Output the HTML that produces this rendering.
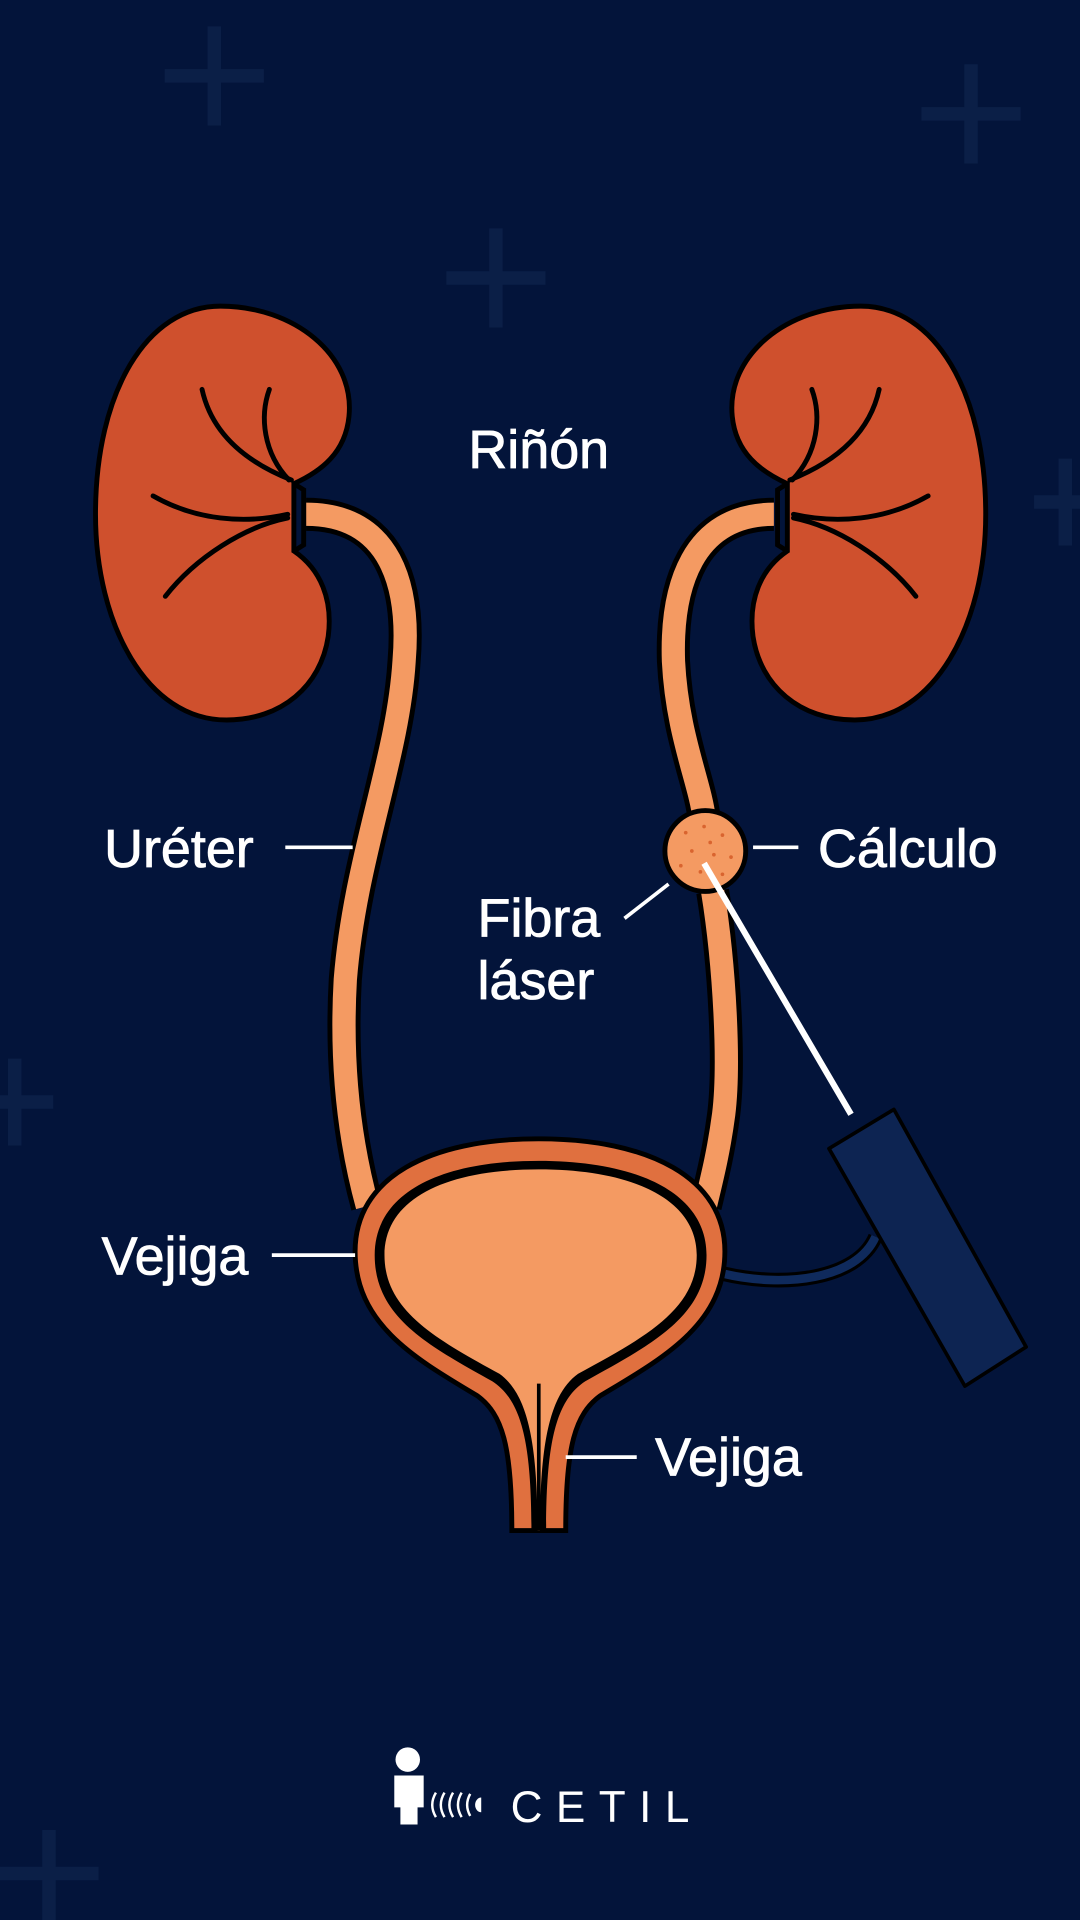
<!DOCTYPE html>
<html><head><meta charset="utf-8"><style>
html,body{margin:0;padding:0;background:#03143a;}
svg{display:block}
text{font-family:"Liberation Sans",sans-serif;fill:#fff;stroke:#fff;stroke-width:0.7;}
</style></head><body>
<svg width="1080" height="1920" viewBox="0 0 882 1568" xmlns="http://www.w3.org/2000/svg">
<rect width="882" height="1568" fill="#03143a"/>
<g stroke="#0b1f47" stroke-width="11" stroke-linecap="square">
<path d="M175 27V97M140 62H210"/>
<path d="M793 58V128M758 93H828"/>
<path d="M405 192V262M370 227H440"/>
<path d="M870 380V440M850 410H890"/>
<path d="M12 870V930M-10 900H38"/>
<path d="M40 1500V1568M5 1530H75"/>
</g>
<!-- ureters -->
<g fill="none" stroke-linecap="butt">
<path d="M250 420 C320 420 335 480 330 540 C325 620 290 700 282 800 C278 870 285 930 300 985" stroke="#000" stroke-width="27"/>
<path d="M250 420 C320 420 335 480 330 540 C325 620 290 700 282 800 C278 870 285 930 300 985" stroke="#f49a62" stroke-width="19"/>
<path d="M632 420 C565 420 548 480 550 540 C553 600 572 640 575 668" stroke="#000" stroke-width="27"/>
<path d="M632 420 C565 420 548 480 550 540 C553 600 572 640 575 668" stroke="#f49a62" stroke-width="19"/>
<path d="M582 728 C592 790 596 870 591 910 C587 940 582 960 576 985" stroke="#000" stroke-width="27"/>
<path d="M582 728 C592 790 596 870 591 910 C587 940 582 960 576 985" stroke="#f49a62" stroke-width="19"/>
</g>
<!-- kidneys -->
<g id="k">
<path d="M180 250 C240 250 290 290 285 340 C282 370 262 385 240 395 L240 450 C262 465 272 490 268 520 C262 560 230 588 185 588 C120 588 78 510 78 420 C78 320 120 250 180 250 Z" fill="#cf502d" stroke="#000" stroke-width="4"/>
<g fill="none" stroke="#000" stroke-width="4" stroke-linecap="round">
<path d="M165 318 C172 350 195 375 238 392"/>
<path d="M220 318 C212 340 215 370 236 392"/>
<path d="M125 405 C160 425 200 428 235 420"/>
<path d="M135 487 C160 455 200 430 235 423"/>
</g>
<path d="M240 395 L248 400 L248 445 L240 450" fill="none" stroke="#000" stroke-width="4"/>
</g>
<use href="#k" transform="translate(883 0) scale(-1 1)"/>
<!-- cable -->
<path d="M590 1040 C640 1052 700 1045 715 1010" fill="none" stroke="#000" stroke-width="12"/>
<path d="M590 1040 C640 1052 700 1045 715 1010" fill="none" stroke="#0f2a5c" stroke-width="7"/>
<!-- bladder -->
<path d="M440 930 C530 930 592 962 592 1022 C592 1082 540 1110 490 1140 C470 1155 462 1180 462 1250 L418 1250 C418 1180 410 1155 390 1140 C340 1110 290 1082 290 1022 C290 962 350 930 440 930 Z" fill="#e0703f" stroke="#000" stroke-width="4"/>
<path d="M440 948 C522 948 577 975 577 1025 C577 1075 532 1098 478 1128 C455 1143 446 1175 446 1250 L434 1250 C434 1175 425 1143 402 1128 C348 1098 306 1075 306 1025 C306 975 358 948 440 948 Z" fill="#000"/>
<path d="M440 955 C518 955 569 980 569 1025 C569 1070 525 1093 472 1122 C450 1138 441 1175 441 1250 L439 1250 C439 1175 430 1138 408 1122 C355 1093 314 1070 314 1025 C314 980 362 955 440 955 Z" fill="#f49a62"/>
<path d="M440 1130 L440 1250" stroke="#000" stroke-width="3"/>
<!-- stone -->
<circle cx="576" cy="695" r="33" fill="#f49a62" stroke="#000" stroke-width="4"/>
<g fill="#d9642f">
<circle cx="560" cy="680" r="1.5"/><circle cx="575" cy="675" r="1.5"/><circle cx="590" cy="682" r="1.5"/><circle cx="565" cy="695" r="1.5"/><circle cx="583" cy="698" r="1.5"/><circle cx="597" cy="700" r="1.5"/><circle cx="556" cy="707" r="1.5"/><circle cx="572" cy="712" r="1.5"/><circle cx="590" cy="714" r="1.5"/><circle cx="580" cy="688" r="1.5"/>
</g>
<!-- fiber -->
<path d="M575 705 L695 910" stroke="#fff" stroke-width="5"/>
<!-- scope -->
<path d="M677 938 L730 906 L838 1100 L788 1132 Z" fill="#0d2452" stroke="#000" stroke-width="3" stroke-linejoin="round"/>
<!-- label lines -->
<g stroke="#fff" stroke-width="3">
<path d="M233 692H288"/><path d="M615 692H652"/><path d="M510 750L546 722"/>
<path d="M222 1025H290"/><path d="M462 1190H520"/>
</g>
<g font-size="44">
<text x="440" y="382" text-anchor="middle">Riñón</text>
<text x="85" y="708">Uréter</text>
<text x="668" y="708">Cálculo</text>
<text x="390" y="765">Fibra</text>
<text x="390" y="816">láser</text>
<text x="83" y="1041">Vejiga</text>
<text x="535" y="1205">Vejiga</text>
</g>
<!-- logo -->
<circle cx="333" cy="1437" r="10" fill="#fff"/>
<path d="M322 1450 H346 V1476 H341 V1490 H327 V1476 H322 Z" fill="#fff"/>
<g fill="none" stroke="#fff" stroke-width="2">
<path d="M356 1464 Q350 1474 356 1484"/><path d="M363 1464 Q357 1474 363 1484"/><path d="M370 1464 Q364 1474 370 1484"/><path d="M377 1464 Q371 1474 377 1484"/><path d="M384 1465 Q379 1474 384 1483"/>
</g>
<path d="M393 1468 a5 6 0 0 0 0 12 Z" fill="#fff"/>
<text x="417" y="1488" font-size="36" letter-spacing="11" style="stroke-width:0">CETIL</text>
</svg>
</body></html>
